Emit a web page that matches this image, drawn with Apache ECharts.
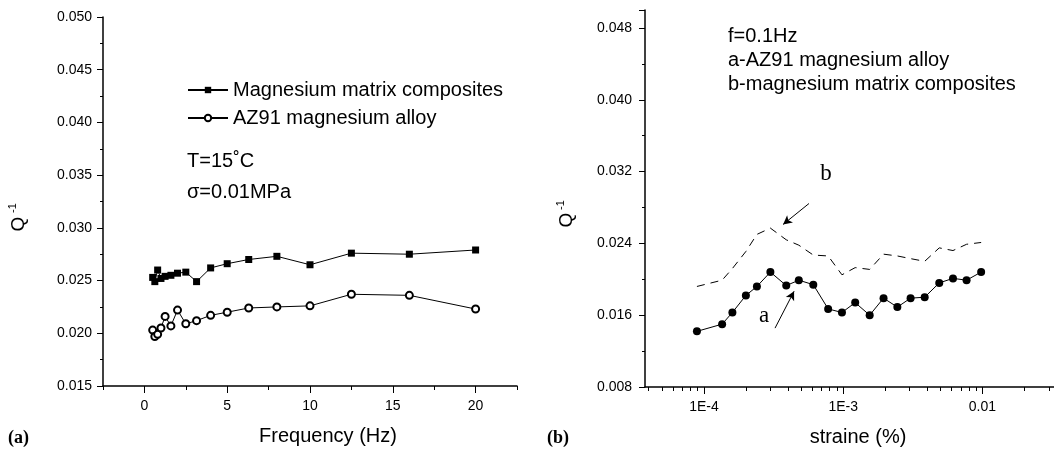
<!DOCTYPE html>
<html>
<head>
<meta charset="utf-8">
<script src="https://cdn.jsdelivr.net/npm/echarts@6/dist/echarts.min.js"></script>
<style>
  html, body { margin: 0; padding: 0; background: #fff; }
  #chart { width: 1054px; height: 452px; }
</style>
</head>
<body>
<div id="chart"></div>
<script>
// (a) damping vs frequency
const freq = [0.5, 0.63, 0.8, 1.0, 1.25, 1.6, 2.0, 2.5, 3.15, 4, 5, 6.3, 8, 10, 12.5, 16, 20]
const composites = [0.0253, 0.0249, 0.0260, 0.0252, 0.0254, 0.0255, 0.0257, 0.0258, 0.0249, 0.0262,
  0.0266, 0.0270, 0.0273, 0.0265, 0.0276, 0.0275, 0.0279]
const az91 = [0.0203, 0.0197, 0.0199, 0.0205, 0.0216, 0.0207, 0.0222, 0.0209, 0.0212, 0.0217,
  0.0220, 0.0224, 0.0225, 0.0226, 0.0237, 0.0236, 0.0223]
const freqTicks = [0, 5, 10, 15, 20]

// (b) damping vs strain amplitude
const strain = [8.9e-5, 1.35e-4, 1.6e-4, 2.0e-4, 2.4e-4, 3.0e-4, 3.9e-4, 4.8e-4, 6.1e-4, 7.8e-4,
  9.8e-4, 1.22e-3, 1.55e-3, 1.95e-3, 2.45e-3, 3.05e-3, 3.85e-3, 4.9e-3, 6.15e-3, 7.7e-3, 9.8e-3]
const curveA = [0.0142, 0.0150, 0.0163, 0.0182, 0.0192, 0.0208, 0.0193, 0.0199, 0.0194, 0.0167,
  0.0163, 0.0174, 0.0160, 0.0179, 0.0169, 0.0179, 0.0180, 0.0196, 0.0201, 0.0199, 0.0208]
const curveB = [0.0192, 0.0199, 0.0212, 0.0231, 0.0250, 0.0257, 0.0244, 0.0238, 0.0227, 0.0226,
  0.0205, 0.0213, 0.0211, 0.0228, 0.0226, 0.0223, 0.0220, 0.0235, 0.0232, 0.0239, 0.0241]
const strainTicks = [1e-4, 1e-3, 1e-2]
const strainTickLabels = ['1E-4', '1E-3', '0.01']

const FONT = 'Liberation Sans, Arial, Helvetica, sans-serif'
const SERIF = 'Liberation Serif, Times New Roman, serif'
const black = '#000'

// x of strain plot is drawn on log10 scale
const lg = v => Math.log10(v)
const strainMajor = strainTicks.map(lg)
const strainMinor = []
for (let n = -5; n <= -2; n++) {
  for (let k = 2; k <= 9; k++) strainMinor.push(lg(k * Math.pow(10, n)))
}

const axisLine = { onZero: false, lineStyle: { color: black, width: 1.5 } }

const chart = echarts.init(document.getElementById('chart'))

const option = {
  animation: false,
  textStyle: { fontFamily: FONT, color: black },
  grid: [
    { left: 103, right: 537, top: 17, bottom: 66, outerBoundsMode: 'none' },
    { left: 645, right: 0, top: 10, bottom: 65, outerBoundsMode: 'none' }
  ],
  legend: {
    orient: 'vertical',
    left: 182,
    top: 75,
    itemWidth: 40,
    itemHeight: 8,
    itemGap: 8,
    data: ['Magnesium matrix composites', 'AZ91 magnesium alloy'],
    textStyle: { fontSize: 20, color: black, fontFamily: FONT }
  },
  xAxis: [
    {
      gridIndex: 0,
      type: 'value',
      min: -2.5,
      max: 22.5,
      interval: 2.5,
      axisLine,
      axisTick: { length: 4, lineStyle: { color: black } },
      axisLabel: {
        customValues: freqTicks,
        fontSize: 14,
        color: black,
        margin: 13
      },
      splitLine: { show: false },
      name: 'Frequency (Hz)',
      nameLocation: 'middle',
      nameGap: 40,
      nameTextStyle: { fontSize: 20, color: black, padding: [0, 0, 0, 36] }
    },
    {
      gridIndex: 0,
      type: 'value',
      position: 'bottom',
      min: -2.5,
      max: 22.5,
      axisLine: { show: false, onZero: false },
      axisTick: { customValues: freqTicks, length: 7, lineStyle: { color: black } },
      axisLabel: { show: false },
      splitLine: { show: false }
    },
    {
      gridIndex: 1,
      type: 'value',
      min: lg(3.77e-5),
      max: lg(0.0327),
      axisLine,
      axisTick: { customValues: strainMinor, length: 4, lineStyle: { color: black } },
      axisLabel: {
        customValues: strainMajor,
        fontSize: 14,
        color: black,
        margin: 13,
        formatter: v => {
          const i = strainMajor.findIndex(t => Math.abs(t - v) < 1e-6)
          return i >= 0 ? strainTickLabels[i] : ''
        }
      },
      splitLine: { show: false },
      name: 'straine (%)',
      nameLocation: 'middle',
      nameGap: 40,
      nameTextStyle: { fontSize: 20, color: black, padding: [0, 0, 0, 17] }
    },
    {
      gridIndex: 1,
      type: 'value',
      position: 'bottom',
      min: lg(3.77e-5),
      max: lg(0.0327),
      axisLine: { show: false, onZero: false },
      axisTick: { customValues: strainMajor, length: 7, lineStyle: { color: black } },
      axisLabel: { show: false },
      splitLine: { show: false }
    }
  ],
  yAxis: [
    {
      gridIndex: 0,
      type: 'value',
      min: 0.015,
      max: 0.05,
      interval: 0.005,
      axisLine: { show: true, onZero: false, lineStyle: { color: black, width: 1.5 } },
      axisTick: { show: true, length: 6, lineStyle: { color: black } },
      minorTick: { show: true, splitNumber: 2, length: 3, lineStyle: { color: black } },
      axisLabel: { fontSize: 14, color: black, margin: 11, formatter: v => v.toFixed(3) },
      splitLine: { show: false }
    },
    {
      gridIndex: 1,
      type: 'value',
      min: 0.008,
      max: 0.05,
      interval: 0.008,
      axisLine: { show: true, onZero: false, lineStyle: { color: black, width: 1.5 } },
      axisTick: { show: true, length: 6, lineStyle: { color: black } },
      minorTick: { show: true, splitNumber: 2, length: 3, lineStyle: { color: black } },
      axisLabel: { fontSize: 14, color: black, margin: 13, showMaxLabel: false, formatter: v => v.toFixed(3) },
      splitLine: { show: false }
    }
  ],
  series: [
    {
      name: 'Magnesium matrix composites',
      type: 'line',
      xAxisIndex: 0,
      yAxisIndex: 0,
      data: freq.map((f, i) => [f, composites[i]]),
      symbol: 'rect',
      symbolSize: 7,
      itemStyle: { color: black },
      lineStyle: { color: black, width: 1 }
    },
    {
      name: 'AZ91 magnesium alloy',
      type: 'line',
      xAxisIndex: 0,
      yAxisIndex: 0,
      data: freq.map((f, i) => [f, az91[i]]),
      symbol: 'emptyCircle',
      symbolSize: 7,
      itemStyle: { color: black, borderWidth: 1 },
      lineStyle: { color: black, width: 1 }
    },
    {
      name: 'a',
      type: 'line',
      xAxisIndex: 2,
      yAxisIndex: 1,
      data: strain.map((s, i) => [lg(s), curveA[i]]),
      symbol: 'circle',
      symbolSize: 8,
      itemStyle: { color: black },
      lineStyle: { color: black, width: 1 },
      markLine: {
        silent: true,
        symbol: ['none', 'arrow'],
        symbolSize: [7, 9],
        label: { show: false },
        lineStyle: { color: black, width: 1, type: 'solid' },
        data: [
          [{ coord: [lg(3.24e-4), 0.01456] }, { coord: [lg(4.44e-4), 0.01867] }]
        ]
      }
    },
    {
      name: 'b',
      type: 'line',
      xAxisIndex: 2,
      yAxisIndex: 1,
      data: strain.map((s, i) => [lg(s), curveB[i]]),
      symbol: 'none',
      lineStyle: { color: black, width: 1, type: [8, 6] },
      markLine: {
        silent: true,
        symbol: ['none', 'arrow'],
        symbolSize: [7, 9],
        label: { show: false },
        lineStyle: { color: black, width: 1, type: 'solid' },
        data: [
          [{ coord: [lg(5.68e-4), 0.02844] }, { coord: [lg(3.7e-4), 0.02611] }]
        ]
      }
    }
  ],
  graphic: [
    // y axis titles, Q^-1
    { type: 'text', x: 19, y: 224, rotation: Math.PI / 2,
      style: { text: 'Q', font: '19px ' + FONT, fill: black, align: 'center', verticalAlign: 'middle' } },
    { type: 'text', x: 13, y: 208, rotation: Math.PI / 2,
      style: { text: '-1', font: '11px ' + FONT, fill: black, align: 'center', verticalAlign: 'middle' } },
    { type: 'text', x: 567, y: 220, rotation: Math.PI / 2,
      style: { text: 'Q', font: '19px ' + FONT, fill: black, align: 'center', verticalAlign: 'middle' } },
    { type: 'text', x: 561, y: 205, rotation: Math.PI / 2,
      style: { text: '-1', font: '11px ' + FONT, fill: black, align: 'center', verticalAlign: 'middle' } },
    // panel (a) notes
    { type: 'text', x: 187, y: 161,
      style: { text: 'T=15˚C', font: '20px ' + FONT, fill: black, verticalAlign: 'middle' } },
    { type: 'text', x: 187, y: 192,
      style: { text: 'σ=0.01MPa', font: '20px ' + FONT, fill: black, verticalAlign: 'middle' } },
    // panel (b) notes
    { type: 'text', x: 728, y: 36,
      style: { text: 'f=0.1Hz', font: '20px ' + FONT, fill: black, verticalAlign: 'middle' } },
    { type: 'text', x: 728, y: 60,
      style: { text: 'a-AZ91 magnesium alloy', font: '20px ' + FONT, fill: black, verticalAlign: 'middle' } },
    { type: 'text', x: 728, y: 84,
      style: { text: 'b-magnesium matrix composites', font: '20px ' + FONT, fill: black, verticalAlign: 'middle' } },
    { type: 'text', x: 826, y: 174,
      style: { text: 'b', font: '23px ' + SERIF, fill: black, align: 'center', verticalAlign: 'middle' } },
    { type: 'text', x: 764, y: 316,
      style: { text: 'a', font: '23px ' + SERIF, fill: black, align: 'center', verticalAlign: 'middle' } },
    // panel letters
    { type: 'text', x: 8, y: 438,
      style: { text: '(a)', font: 'bold 18px ' + SERIF, fill: black, verticalAlign: 'middle' } },
    { type: 'text', x: 547, y: 438,
      style: { text: '(b)', font: 'bold 18px ' + SERIF, fill: black, verticalAlign: 'middle' } }
  ]
}

chart.setOption(option)
</script>
</body>
</html>
